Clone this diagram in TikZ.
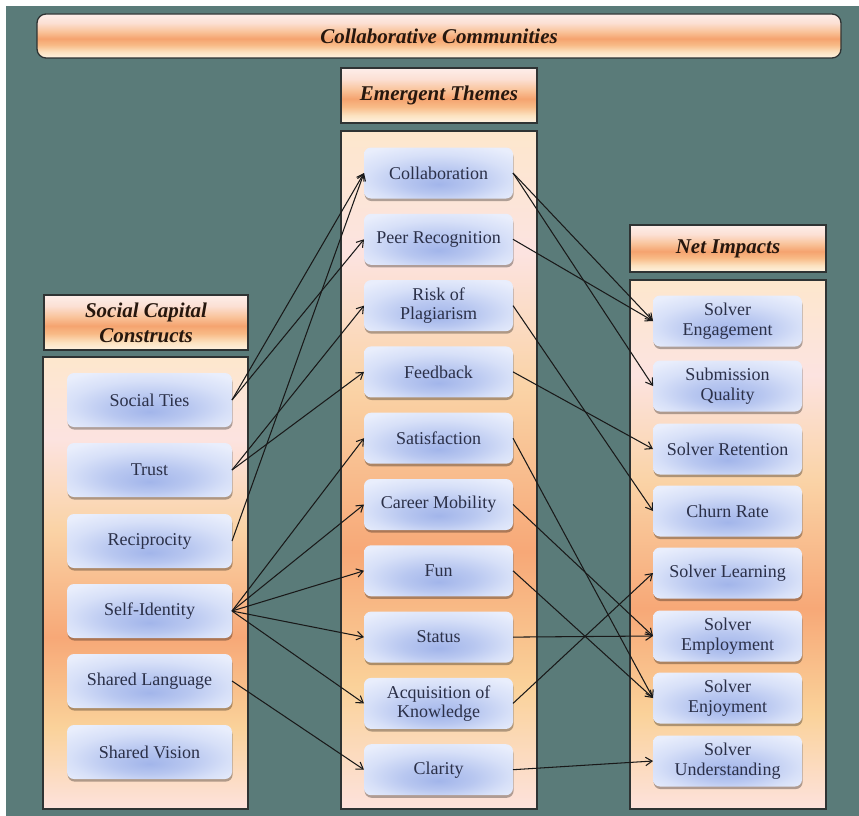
\documentclass[tikz,border=0pt]{standalone}
\usepackage{fontspec}
\setmainfont{Liberation Serif}
\usetikzlibrary{arrows.meta,shadows}

\definecolor{bgteal}{HTML}{5A7B79}
\definecolor{framec}{HTML}{2E3333}
\definecolor{itemtext}{HTML}{2B3048}
\definecolor{headtext}{HTML}{26170E}
% panel gradient stops (bottom to top)
\definecolor{pA}{HTML}{FDE2DC}
\definecolor{pB}{HTML}{FAD29A}
\definecolor{pC}{HTML}{F7A877}
\definecolor{pD}{HTML}{FAD3A6}
\definecolor{pE}{HTML}{FCE3E0}
\definecolor{pF}{HTML}{FDE7CD}
% header gradient stops (bottom to top)
\definecolor{hA}{HTML}{FEF3E2}
\definecolor{hB}{HTML}{FCE2C0}
\definecolor{hC}{HTML}{F8BA86}
\definecolor{hD}{HTML}{F5A36F}
\definecolor{hE}{HTML}{F9C39A}
\definecolor{hF}{HTML}{FCE0D4}
\definecolor{hG}{HTML}{FDEEEA}
% item gradient stops (centre outwards)
\definecolor{bA}{HTML}{A2B5EA}
\definecolor{bB}{HTML}{B8C7F0}
\definecolor{bC}{HTML}{D7E0F8}
\definecolor{bD}{HTML}{E9EEFC}

\pgfdeclareverticalshading{panelglow}{100bp}{color(0bp)=(pA); color(25bp)=(pA); color(34bp)=(pB); color(44bp)=(pC); color(56bp)=(pD); color(66bp)=(pE); color(75bp)=(pF); color(100bp)=(pF)}
\pgfdeclareverticalshading{headglow}{100bp}{color(0bp)=(hA); color(25bp)=(hA); color(32bp)=(hB); color(40bp)=(hC); color(47bp)=(hD); color(55bp)=(hE); color(65bp)=(hF); color(75bp)=(hG); color(100bp)=(hG)}
\pgfdeclareradialshading{boxglow}{\pgfpoint{0bp}{-11bp}}{color(0bp)=(bA); color(12bp)=(bB); color(24bp)=(bC); color(34bp)=(bD); color(50bp)=(bD)}

\begin{document}
\begin{tikzpicture}[x=1pt,y=-1pt,
  panel/.style={draw=framec, line width=1.3pt, shading=panelglow, inner sep=0pt, outer sep=0pt},
  header/.style={draw=framec, line width=1.3pt, shading=headglow, align=center,
    text=headtext, font=\fontsize{21}{25}\selectfont\bfseries\itshape, inner sep=0pt},
  item/.style={rounded corners=7pt, shading=boxglow, align=center, text=itemtext,
    font=\fontsize{18}{19.5}\selectfont, inner sep=2pt, outer sep=0pt,
    drop shadow={shadow xshift=0.6pt, shadow yshift=-2.6pt, fill=black, opacity=0.3}},
  leftitem/.style={item, minimum width=165pt, minimum height=54pt},
  miditem/.style={item, minimum width=149pt, minimum height=51pt},
  rightitem/.style={item, minimum width=149pt, minimum height=51pt},
  conn/.style={draw=black!90, line width=1.05pt, -{Straight Barb[length=6.5pt,width=8.5pt]}}
]
\useasboundingbox (0,0) rectangle (859,816);
\fill[white] (0,0) rectangle (859,816);
\fill[bgteal] (6,6) rectangle (859,816);

% title banner
\node[header, rounded corners=9pt, minimum width=804pt, minimum height=44pt] (title) at (439,36) {Collaborative Communities};

% column frames and headings
\node[header, minimum width=204pt, minimum height=55pt] (lhead) at (146,322.5) {Social Capital\\Constructs};
\node[panel, minimum width=205pt, minimum height=452pt] (lpanel) at (145.5,583) {};
\node[header, minimum width=196pt, minimum height=55pt] (mhead) at (439,95.5) {Emergent Themes};
\node[panel, minimum width=196pt, minimum height=678pt] (mpanel) at (439,470) {};
\node[header, minimum width=196pt, minimum height=47pt] (rhead) at (728,248.5) {Net Impacts};
\node[panel, minimum width=196pt, minimum height=529pt] (rpanel) at (728,544.5) {};

% social capital constructs
\node[leftitem] (ties)  at (149.5,400) {Social Ties};
\node[leftitem] (trust) at (149.5,470) {Trust};
\node[leftitem] (recip) at (149.5,541) {Reciprocity};
\node[leftitem] (self)  at (149.5,611) {Self-Identity};
\node[leftitem] (lang)  at (149.5,681) {Shared Language};
\node[leftitem] (vis)   at (149.5,752) {Shared Vision};

% emergent themes
\node[miditem] (collab) at (438.5,173)   {Collaboration};
\node[miditem] (peer)   at (438.5,239.3) {Peer Recognition};
\node[miditem] (risk)   at (438.5,305.6) {Risk of\\Plagiarism};
\node[miditem] (feed)   at (438.5,371.9) {Feedback};
\node[miditem] (satis)  at (438.5,438.2) {Satisfaction};
\node[miditem] (career) at (438.5,504.5) {Career Mobility};
\node[miditem] (fun)    at (438.5,570.8) {Fun};
\node[miditem] (status) at (438.5,637.1) {Status};
\node[miditem] (acq)    at (438.5,703.4) {Acquisition of\\Knowledge};
\node[miditem] (clar)   at (438.5,769.7) {Clarity};

% net impacts
\node[rightitem] (engage) at (727.5,321) {Solver\\Engagement};
\node[rightitem] (subq)   at (727.5,386) {Submission\\Quality};
\node[rightitem] (retain) at (727.5,449) {Solver Retention};
\node[rightitem] (churn)  at (727.5,511) {Churn Rate};
\node[rightitem] (learn)  at (727.5,573) {Solver Learning};
\node[rightitem] (employ) at (727.5,636) {Solver\\Employment};
\node[rightitem] (enjoy)  at (727.5,698) {Solver\\Enjoyment};
\node[rightitem] (under)  at (727.5,761) {Solver\\Understanding};

% constructs to themes
\draw[conn] (ties.east)  -- (collab.west);
\draw[conn] (ties.east)  -- (peer.west);
\draw[conn] (trust.east) -- (risk.west);
\draw[conn] (trust.east) -- (feed.west);
\draw[conn] (recip.east) -- (collab.west);
\draw[conn] (self.east)  -- (satis.west);
\draw[conn] (self.east)  -- (career.west);
\draw[conn] (self.east)  -- (fun.west);
\draw[conn] (self.east)  -- (status.west);
\draw[conn] (self.east)  -- (acq.west);
\draw[conn] (lang.east)  -- (clar.west);

% themes to impacts
\draw[conn] (collab.east) -- (engage.west);
\draw[conn] (collab.east) -- (subq.west);
\draw[conn] (peer.east)   -- (engage.west);
\draw[conn] (risk.east)   -- (churn.west);
\draw[conn] (feed.east)   -- (retain.west);
\draw[conn] (satis.east)  -- (enjoy.west);
\draw[conn] (career.east) -- (employ.west);
\draw[conn] (fun.east)    -- (enjoy.west);
\draw[conn] (status.east) -- (employ.west);
\draw[conn] (acq.east)    -- (learn.west);
\draw[conn] (clar.east)   -- (under.west);
\end{tikzpicture}
\end{document}
